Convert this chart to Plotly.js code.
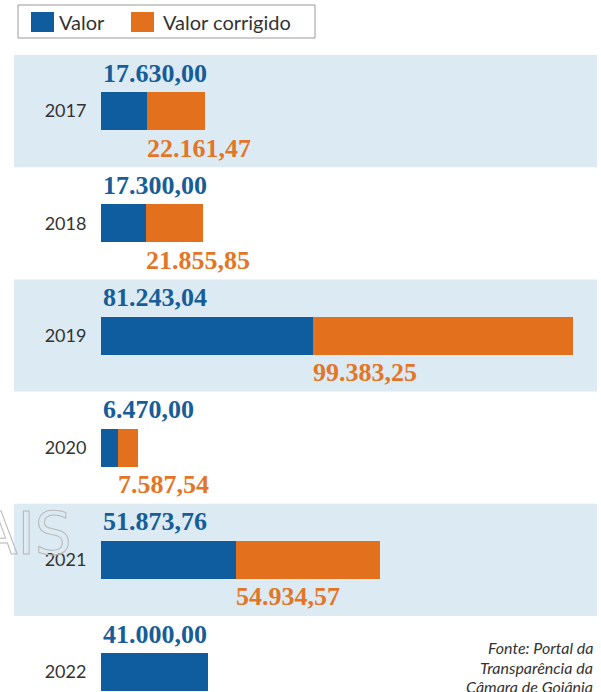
<!DOCTYPE html>
<html>
<head>
<meta charset="utf-8">
<script src="https://cdn.plot.ly/plotly-3.0.1.min.js"></script>
<style>html,body{margin:0;padding:0;background:#fff;}</style>
</head>
<body>
<div id="chart" style="width:601px;height:692px;"></div>
<script>
// ---- data ----
const years = ['2017', '2018', '2019', '2020', '2021', '2022'];
const valor = [17630.00, 17300.00, 81243.04, 6470.00, 51873.76, 41000.00];
const valorCorrigido = [22161.47, 21855.85, 99383.25, 7587.54, 54934.57, null];
const seriesNames = ['Valor', 'Valor corrigido'];
const sourceLines = ['Fonte: Portal da', 'Transparência da', 'Câmara de Goiânia'];
const watermark = 'AIS';

// ---- style ----
const BLUE = '#0f5c9e', ORANGE = '#e3701d';
const BLUE_TXT = '#175d98', ORANGE_TXT = '#e37626';
const BAND = '#dceaf3';
const W = 601, H = 692, L = 101, R = 597, T = 55, B = 692;
const rowH = 112.2;
const px2x = p => (p - L) / (R - L);
const py2y = p => 1 - (p - T) / (B - T);

function fmt(v) {
  const parts = v.toFixed(2).split('.');
  const intPart = parts[0].replace(/\B(?=(\d{3})+(?!\d))/g, '.');
  return intPart + ',' + parts[1];
}

const traces = [
  {type: 'bar', orientation: 'h', name: seriesNames[0], y: years, x: valor,
   marker: {color: BLUE, line: {width: 0}}, hoverinfo: 'skip'},
  {type: 'bar', orientation: 'h', name: seriesNames[1], y: years, x: valorCorrigido,
   marker: {color: ORANGE, line: {width: 0}}, hoverinfo: 'skip'}
];

const shapes = [];
[0, 2, 4].forEach(i => {
  shapes.push({type: 'rect', xref: 'paper', yref: 'paper', layer: 'below',
    x0: px2x(14), x1: px2x(597), y0: py2y(T + i * rowH), y1: py2y(T + (i + 1) * rowH),
    fillcolor: BAND, line: {width: 0}});
});
// legend box and swatches
shapes.push({type: 'rect', xref: 'paper', yref: 'paper', x0: px2x(18), x1: px2x(315),
  y0: py2y(5), y1: py2y(38), line: {color: '#9a9a9a', width: 1}, fillcolor: 'rgba(0,0,0,0)'});
shapes.push({type: 'rect', xref: 'paper', yref: 'paper', x0: px2x(31), x1: px2x(54),
  y0: py2y(12), y1: py2y(32), line: {width: 0}, fillcolor: BLUE});
shapes.push({type: 'rect', xref: 'paper', yref: 'paper', x0: px2x(131), x1: px2x(154),
  y0: py2y(12), y1: py2y(32), line: {width: 0}, fillcolor: ORANGE});

const valFont = {family: 'Liberation Serif', size: 26};
const annotations = [];
years.forEach((yr, i) => {
  annotations.push({xref: 'x', yref: 'y', x: 0, y: i, xanchor: 'left', yanchor: 'middle',
    yshift: 38, showarrow: false, text: '<b>' + fmt(valor[i]) + '</b>',
    font: Object.assign({}, valFont, {color: BLUE_TXT})});
  if (valorCorrigido[i] != null) {
    annotations.push({xref: 'x', yref: 'y', x: valor[i], y: i, xanchor: 'left', yanchor: 'middle',
      yshift: -37, xshift: -2, showarrow: false, text: '<b>' + fmt(valorCorrigido[i]) + '</b>',
      font: Object.assign({}, valFont, {color: ORANGE_TXT})});
  }
});
// legend texts
annotations.push({xref: 'paper', yref: 'paper', x: px2x(57), y: py2y(22), xanchor: 'left', yanchor: 'middle',
  showarrow: false, text: seriesNames[0], font: {family: 'Lato', size: 20, color: '#333'}});
annotations.push({xref: 'paper', yref: 'paper', x: px2x(161), y: py2y(22), xanchor: 'left', yanchor: 'middle',
  showarrow: false, text: seriesNames[1], font: {family: 'Lato', size: 20, color: '#333'}});
// source
const srcY = [647, 667, 686];
sourceLines.forEach((s, k) => {
  annotations.push({xref: 'paper', yref: 'paper', x: px2x(595), y: py2y(srcY[k]), xanchor: 'right', yanchor: 'middle',
    showarrow: false, text: s, font: {family: 'Lato', size: 16, style: 'italic', color: '#333'}});
});
// watermark
annotations.push({xref: 'paper', yref: 'paper', x: px2x(74), y: py2y(534), xanchor: 'right', yanchor: 'middle',
  showarrow: false, text: watermark,
  font: {family: 'DejaVu Sans', size: 58, color: 'rgba(190,190,190,0.5)'}});

const layout = {
  width: W, height: H,
  margin: {l: L, r: W - R, t: T, b: 0, pad: 0},
  paper_bgcolor: '#ffffff', plot_bgcolor: 'rgba(0,0,0,0)',
  barmode: 'stack', bargap: 1 - 38 / rowH,
  showlegend: false,
  xaxis: {range: [0, (R - L) / 0.002612], visible: false, showgrid: false, zeroline: false, fixedrange: true},
  yaxis: {type: 'category', categoryorder: 'array', categoryarray: years,
    range: [-0.5 + (B - T) / rowH, -0.5], showgrid: false, zeroline: false, showline: false,
    ticks: 'outside', ticklen: 10, tickcolor: 'rgba(0,0,0,0)',
    tickfont: {family: 'Lato', size: 18, color: '#333'}, fixedrange: true},
  shapes: shapes,
  annotations: annotations
};

Plotly.newPlot('chart', traces, layout, {displayModeBar: false, staticPlot: true}).then(() => {
  document.querySelectorAll('.annotation-text').forEach(t => {
    if (t.textContent === watermark) {
      t.style.fill = 'none';
      t.style.stroke = '#b8b8b8';
      t.style.strokeWidth = '1px';
    }
  });
});
</script>
</body>
</html>
